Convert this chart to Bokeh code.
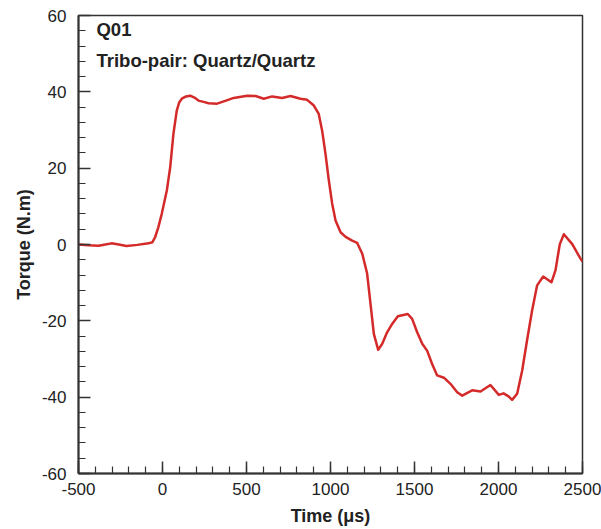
from bokeh.plotting import figure
from bokeh.models import Range1d, SingleIntervalTicker, Label, PrintfTickFormatter
from bokeh.embed import file_html
from bokeh.resources import INLINE

time_us = [-500, -440, -381, -340, -304, -260, -214, -150, -83, -60, -44, -25, -4, 26, 46, 65, 85,
           100, 115, 140, 165, 190, 214, 250, 274, 325, 365, 424, 504, 554, 603, 653, 712, 762,
           821, 861, 901, 930, 950, 970, 990, 1010, 1030, 1060, 1090, 1129, 1159, 1189, 1218,
           1238, 1258, 1284, 1308, 1337, 1367, 1401, 1460, 1486, 1516, 1546, 1575, 1605, 1635,
           1675, 1714, 1754, 1784, 1843, 1893, 1952, 2002, 2030, 2060, 2081, 2111, 2141, 2170,
           2200, 2230, 2266, 2315, 2339, 2365, 2389, 2439, 2488, 2500]
torque = [0.0, -0.2, -0.3, 0.0, 0.3, 0.0, -0.4, -0.1, 0.3, 0.6, 1.9, 4.5, 8.1, 14.2, 20.3, 29.0, 35.1,
          37.3, 38.2, 38.8, 39.0, 38.5, 37.7, 37.3, 37.0, 36.9, 37.5, 38.4, 39.0, 38.9, 38.2, 38.8, 38.4, 38.9,
          38.2, 37.9, 36.4, 34.2, 29.9, 23.8, 16.8, 10.7, 6.3, 3.2, 2.0, 1.0, 0.4, -2.4, -7.6,
          -15.5, -23.4, -27.6, -26.0, -23.0, -20.8, -18.8, -18.2, -19.5, -23.0, -26.0, -27.8, -31.3, -34.3,
          -34.9, -36.5, -38.7, -39.6, -38.2, -38.5, -36.8, -39.4, -39.0, -39.8, -40.7, -39.1, -33.0, -25.1,
          -17.3, -10.7, -8.4, -9.9, -6.8, 0.1, 2.7, 0.1, -3.7, -4.5]

x_ticks_interval = 500
y_ticks_interval = 20

FONT = "Liberation Sans"
DARK = "#333333"

p = figure(width=601, height=529, output_backend="svg", toolbar_location=None,
           x_range=Range1d(-500, 2500), y_range=Range1d(-60, 60),
           min_border_left=78, min_border_right=19, min_border_top=15, min_border_bottom=56)

p.line(time_us, torque, line_color="#d42a2a", line_width=2.5, line_join="round")

p.xgrid.visible = False
p.ygrid.visible = False
p.outline_line_color = DARK
p.outline_line_width = 1.5

p.xaxis.ticker = SingleIntervalTicker(interval=x_ticks_interval, num_minor_ticks=5)
p.yaxis.ticker = SingleIntervalTicker(interval=y_ticks_interval, num_minor_ticks=5)
p.xaxis.formatter = PrintfTickFormatter(format="%d")
p.yaxis.formatter = PrintfTickFormatter(format="%d")

for ax in (p.xaxis[0], p.yaxis[0]):
    ax.axis_line_color = DARK
    ax.axis_line_width = 2
    ax.major_tick_in = 12
    ax.major_tick_out = 0
    ax.minor_tick_in = 7
    ax.minor_tick_out = 0
    ax.major_tick_line_color = DARK
    ax.minor_tick_line_color = DARK
    ax.major_tick_line_width = 1.5
    ax.minor_tick_line_width = 1.2
    ax.major_label_text_font = FONT
    ax.major_label_text_font_size = "17px"
    ax.major_label_text_color = "#222222"
    ax.axis_label_text_font = FONT
    ax.axis_label_text_font_size = "18px"
    ax.axis_label_text_font_style = "bold"
    ax.axis_label_text_color = "#222222"

p.xaxis.axis_label = "Time (\u03bcs)"
p.yaxis.axis_label = "Torque (N.m)"
p.xaxis.major_label_standoff = 9
p.yaxis.major_label_standoff = 12
p.xaxis.axis_label_standoff = 8
p.yaxis.axis_label_standoff = 5

p.add_layout(Label(x=-393, y=56.3, text="Q01", text_font=FONT, text_font_size="18.5px",
                   text_font_style="bold", text_color="#222222", text_baseline="alphabetic"))
p.add_layout(Label(x=-393, y=48.3, text="Tribo-pair: Quartz/Quartz", text_font=FONT,
                   text_font_size="18.5px", text_font_style="bold", text_color="#222222",
                   text_baseline="alphabetic"))

open("out.html", "w").write(file_html(p, INLINE))
